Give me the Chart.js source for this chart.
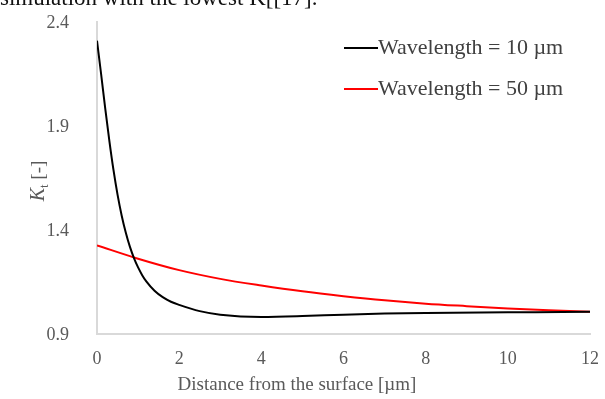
<!DOCTYPE html>
<html lang="en">
<head>
    <meta charset="UTF-8">
    <title>Kt vs distance</title>
    <script src="https://cdn.jsdelivr.net/npm/chart.js"></script>
    <style>
        body { margin: 0; background: #fff; overflow: hidden; }
        #wrap { position: relative; width: 605px; height: 399px; }
        #caption {
            position: absolute; left: 0; top: -15px;
            font-family: "Liberation Serif", serif; font-size: 23px; color: #111;
            white-space: nowrap;
        }
    </style>
</head>
<body>
<div id="wrap">
    <div id="caption">simulation with the lowest K[[17].</div>
    <canvas id="ktChart" width="605" height="399"></canvas>
</div>

<script>
    // distance from the surface [um] and Kt values
    const labels10 = ['Wavelength = 10 \u00b5m'];
    const labels50 = ['Wavelength = 50 \u00b5m'];
    const dist10 = [0, 0.1, 0.2, 0.3, 0.4, 0.5, 0.6, 0.7, 0.8, 0.9, 1.0, 1.1, 1.2, 1.4, 1.6, 1.8, 2.0, 2.5, 3, 4, 5, 6, 7, 8, 10, 12];
    const kt10   = [2.31, 2.15, 1.985, 1.83, 1.69, 1.57, 1.47, 1.388, 1.32, 1.265, 1.22, 1.183, 1.153, 1.108, 1.077, 1.055, 1.04, 1.01, 0.993, 0.982, 0.986, 0.993, 0.998, 1.001, 1.004, 1.007];
    const dist50 = [0, 1, 2, 3, 4, 5, 6, 7, 8, 9, 10, 11, 12];
    const kt50   = [1.326, 1.262, 1.207, 1.165, 1.133, 1.105, 1.082, 1.062, 1.046, 1.034, 1.023, 1.014, 1.007];
    const xTicks = [0, 2, 4, 6, 8, 10, 12];
    const yTicks = [0.9, 1.4, 1.9, 2.4];
    const xTitle = 'Distance from the surface [\u00b5m]';

    const toPoints = (xs, ys) => xs.map((x, i) => ({ x: x, y: ys[i] }));
    const serif = '"Liberation Serif", "Times New Roman", serif';
    const grey = '#595959';

    // tick labels and axis titles, placed from the chart's own scales
    const axisText = {
        id: 'axisText',
        afterDraw(chart) {
            const c = chart.ctx;
            const xs = chart.scales.x, ys = chart.scales.y;
            c.save();
            c.fillStyle = grey;
            c.font = '18px ' + serif;
            c.textBaseline = 'middle';
            c.textAlign = 'right';
            yTicks.forEach(v => c.fillText(v.toFixed(1), 69, ys.getPixelForValue(v) + 1));
            c.textAlign = 'center';
            xTicks.forEach(v => c.fillText(String(v), xs.getPixelForValue(v), 359));

            c.font = '19px ' + serif;
            c.fillText(xTitle, 297, 385);

            c.textAlign = 'left';
            c.textBaseline = 'alphabetic';
            c.translate(38, 181);
            c.rotate(-Math.PI / 2);
            c.font = 'italic 20px ' + serif;
            const wK = c.measureText('K').width;
            c.font = '13px ' + serif;
            const wt = c.measureText('t').width;
            c.font = '19px ' + serif;
            const wRest = c.measureText(' [-]').width;
            let x = -(wK + wt + wRest) / 2;
            c.font = 'italic 20px ' + serif;
            c.fillText('K', x, 6);
            x += wK;
            c.font = '13px ' + serif;
            c.fillText('t', x, 10);
            x += wt;
            c.font = '19px ' + serif;
            c.fillText(' [-]', x, 6);
            c.restore();
        }
    };

    // legend drawn inside the plot area, top right
    const innerLegend = {
        id: 'innerLegend',
        afterDraw(chart) {
            const c = chart.ctx;
            c.save();
            c.font = '22px ' + serif;
            c.textBaseline = 'middle';
            chart.data.datasets.forEach((ds, i) => {
                const y = 48 + i * 41;
                c.strokeStyle = ds.borderColor;
                c.lineWidth = 2;
                c.beginPath();
                c.moveTo(344, y);
                c.lineTo(378, y);
                c.stroke();
                c.fillStyle = '#404040';
                c.fillText(ds.label, 378, y);
            });
            c.restore();
        }
    };

    const ctx = document.getElementById('ktChart').getContext('2d');
    const ktChart = new Chart(ctx, {
        type: 'line',
        data: {
            datasets: [{
                label: labels10[0],
                data: toPoints(dist10, kt10),
                borderColor: '#000000',
                borderWidth: 2,
                pointRadius: 0,
                cubicInterpolationMode: 'monotone'
            }, {
                label: labels50[0],
                data: toPoints(dist50, kt50),
                borderColor: '#ff0000',
                borderWidth: 2,
                pointRadius: 0,
                cubicInterpolationMode: 'monotone'
            }]
        },
        options: {
            responsive: false,
            animation: false,
            layout: { padding: { top: 22, right: 15, left: 0, bottom: 0 } },
            plugins: {
                legend: { display: false },
                tooltip: { enabled: false }
            },
            scales: {
                x: {
                    type: 'linear',
                    min: 0,
                    max: 12,
                    afterBuildTicks: (scale) => { scale.ticks = xTicks.map(v => ({ value: v })); },
                    afterFit: (scale) => { scale.height = 65; },
                    grid: { display: false, drawTicks: false },
                    border: { color: '#d9d9d9', width: 2 },
                    ticks: { display: false }
                },
                y: {
                    min: 0.9,
                    max: 2.4,
                    afterBuildTicks: (scale) => { scale.ticks = yTicks.map(v => ({ value: v })); },
                    afterFit: (scale) => { scale.width = 97; },
                    grid: { display: false, drawTicks: false },
                    border: { color: '#d9d9d9', width: 2 },
                    ticks: { display: false }
                }
            }
        },
        plugins: [axisText, innerLegend]
    });
</script>
</body>
</html>
